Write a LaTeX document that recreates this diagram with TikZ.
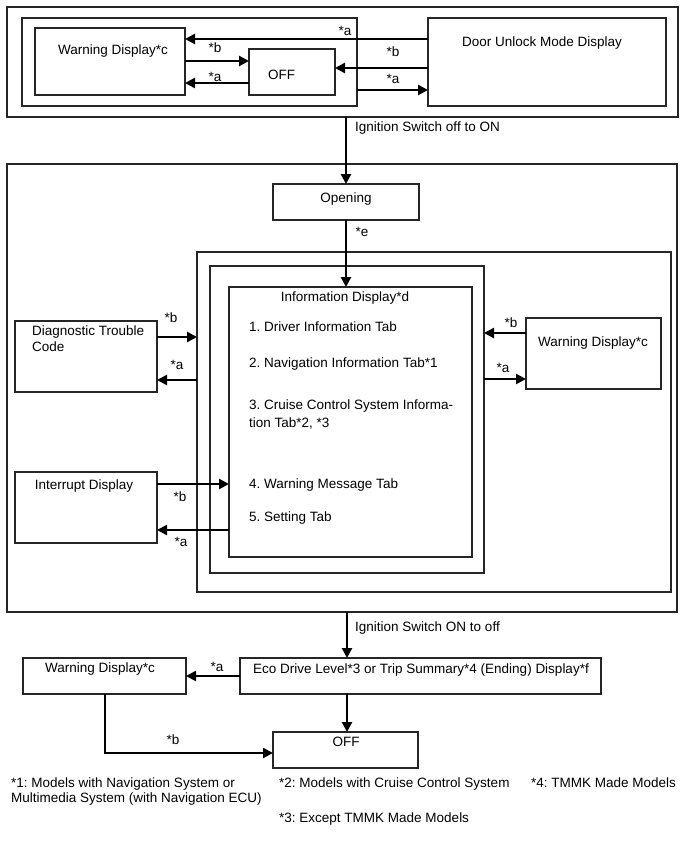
\documentclass[tikz,border=0pt]{standalone}
\usepackage{fontspec}
\setmainfont{Liberation Sans}
\usetikzlibrary{arrows.meta}
\frenchspacing
\newcommand{\bx}[5]{\node[box, minimum width={#4pt-#2pt}, minimum height={#5pt-#3pt}] (#1) at ({(#2+#4)/2},{(#3+#5)/2}) {};}
\tikzset{
 box/.style={draw=black!85, line width=1.1pt, inner sep=0pt, outer sep=0pt},
 txt/.style={inner sep=0pt, font=\fontsize{13.5pt}{16pt}\selectfont, text height=9.5pt, text depth=0pt},
 lab/.style={txt, anchor=center},
 arr/.style={line width=2.6pt, -{Triangle[length=10pt,width=10pt]}},
}
\begin{document}
\begin{tikzpicture}[x=1pt,y=-1pt]
\useasboundingbox (0,0) rectangle (690,854);
\fill[white] (0,0) rectangle (690,854);
% ---------- top block ----------
\bx{outerTop}{7}{7}{678}{117}
\bx{innerTop}{22}{18}{357}{106}
\bx{warnTop}{35}{28}{185}{95}
\bx{offTop}{249}{49}{335}{95}
\bx{doorTop}{428}{18}{666}{106}
\node[txt,anchor=west] (tWarnTop) at (58,50) {Warning Display*c};
\node[txt,anchor=west] (tOffTop) at (268,75) {OFF};
\node[txt] (tDoor) at (542,42) {Door Unlock Mode Display};
\draw[arr] (doorTop.west |- 0,39) -- (warnTop.east |- 0,39);
\node[lab] (l1) at (345,31) {*a};
\draw[arr] (warnTop.east |- 0,61) -- (offTop.west |- 0,61);
\node[lab] (l2) at (215,48) {*b};
\draw[arr] (doorTop.west |- 0,68) -- (offTop.east |- 0,68);
\node[lab] (l3) at (393,52) {*b};
\draw[arr] (offTop.west |- 0,83) -- (warnTop.east |- 0,83);
\node[lab] (l4) at (215,77) {*a};
\draw[arr] (innerTop.east |- 0,90) -- (doorTop.west |- 0,90);
\node[lab] (l5) at (393,79) {*a};
% ---------- main block ----------
\bx{mainBox}{7}{164}{677}{612}
\bx{opening}{273}{184}{419}{220}
\node[txt] (tOpening) at (346,198) {Opening};
\draw[arr] (opening.north |- outerTop.south) -- (opening.north);
\node[txt,anchor=west] (tIgn1) at (355,127) {Ignition Switch off to ON};
\bx{nestA}{197}{252}{671}{592}
\bx{nestB}{210}{266}{484}{573}
\bx{info}{229}{287}{472}{557}
\draw[arr] (opening.south) -- (opening.south |- info.north);
\node[lab] (le) at (362,232) {*e};
\node[txt] (tInfo) at (345,297) {Information Display*d};
\node[txt,anchor=west] (i1) at (249,327) {1. Driver Information Tab};
\node[txt,anchor=west] (i2) at (249,363) {2. Navigation Information Tab*1};
\node[txt,anchor=west] (i3) at (249,405) {3. Cruise Control System Informa-};
\node[txt,anchor=west] (i3b) at (249,423) {tion Tab*2, *3};
\node[txt,anchor=west] (i4) at (249,484) {4. Warning Message Tab};
\node[txt,anchor=west] (i5) at (249,517) {5. Setting Tab};
% DTC
\bx{dtc}{15}{321}{157}{392}
\node[txt,anchor=west] (tDtc1) at (32,331) {Diagnostic Trouble};
\node[txt,anchor=west] (tDtc2) at (32,347) {Code};
\draw[arr] (dtc.east |- 0,337) -- (nestA.west |- 0,337);
\node[lab] (l6) at (171,318) {*b};
\draw[arr] (nestA.west |- 0,380) -- (dtc.east |- 0,380);
\node[lab] (l7) at (177,365) {*a};
% right warning
\bx{warnR}{526}{318}{661}{389}
\node[txt] (tWarnR) at (593,342) {Warning Display*c};
\draw[arr] (warnR.west |- 0,333) -- (nestB.east |- 0,333);
\node[lab] (l8) at (511,323) {*b};
\draw[arr] (nestB.east |- 0,379) -- (warnR.west |- 0,379);
\node[lab] (l9) at (503,368) {*a};
% interrupt
\bx{intr}{15}{472}{157}{543}
\node[txt] (tIntr) at (84,485) {Interrupt Display};
\draw[arr] (intr.east |- 0,484) -- (info.west |- 0,484);
\node[lab] (l10) at (180,497) {*b};
\draw[arr] (info.west |- 0,530) -- (intr.east |- 0,530);
\node[lab] (l11) at (181,542) {*a};
% ---------- bottom ----------
\coordinate (bx) at (347,0);
\bx{eco}{240}{658}{601}{694}
\node[txt,anchor=west] (tEco) at (253,669) {Eco Drive Level*3 or Trip Summary*4 (Ending) Display*f};
\draw[arr] (bx |- mainBox.south) -- (bx |- eco.north);
\node[txt,anchor=west] (tIgn2) at (355,627) {Ignition Switch ON to off};
\bx{warnB}{23}{658}{186}{694}
\node[txt,anchor=west] (tWarnB) at (45,668) {Warning Display*c};
\draw[arr] (eco.west |- 0,676) -- (warnB.east |- 0,676);
\node[lab] (l12) at (217,667) {*a};
\bx{offB}{273}{732}{418}{768}
\node[txt] (tOffB) at (346,742) {OFF};
\draw[arr] (bx |- eco.south) -- (bx |- offB.north);
\draw[arr] (warnB.south -| 105,0) |- (offB.west |- 0,753);
\node[lab] (l13) at (173,740) {*b};
% footnotes
\node[txt,anchor=west] (f1a) at (11,783) {*1: Models with Navigation System or};
\node[txt,anchor=west] (f1b) at (11,798) {Multimedia System (with Navigation ECU)};
\node[txt,anchor=west] (f2) at (279,783) {*2: Models with Cruise Control System};
\node[txt,anchor=west] (f4) at (531,783) {*4: TMMK Made Models};
\node[txt,anchor=west] (f3) at (279,818) {*3: Except TMMK Made Models};
\end{tikzpicture}
\end{document}
